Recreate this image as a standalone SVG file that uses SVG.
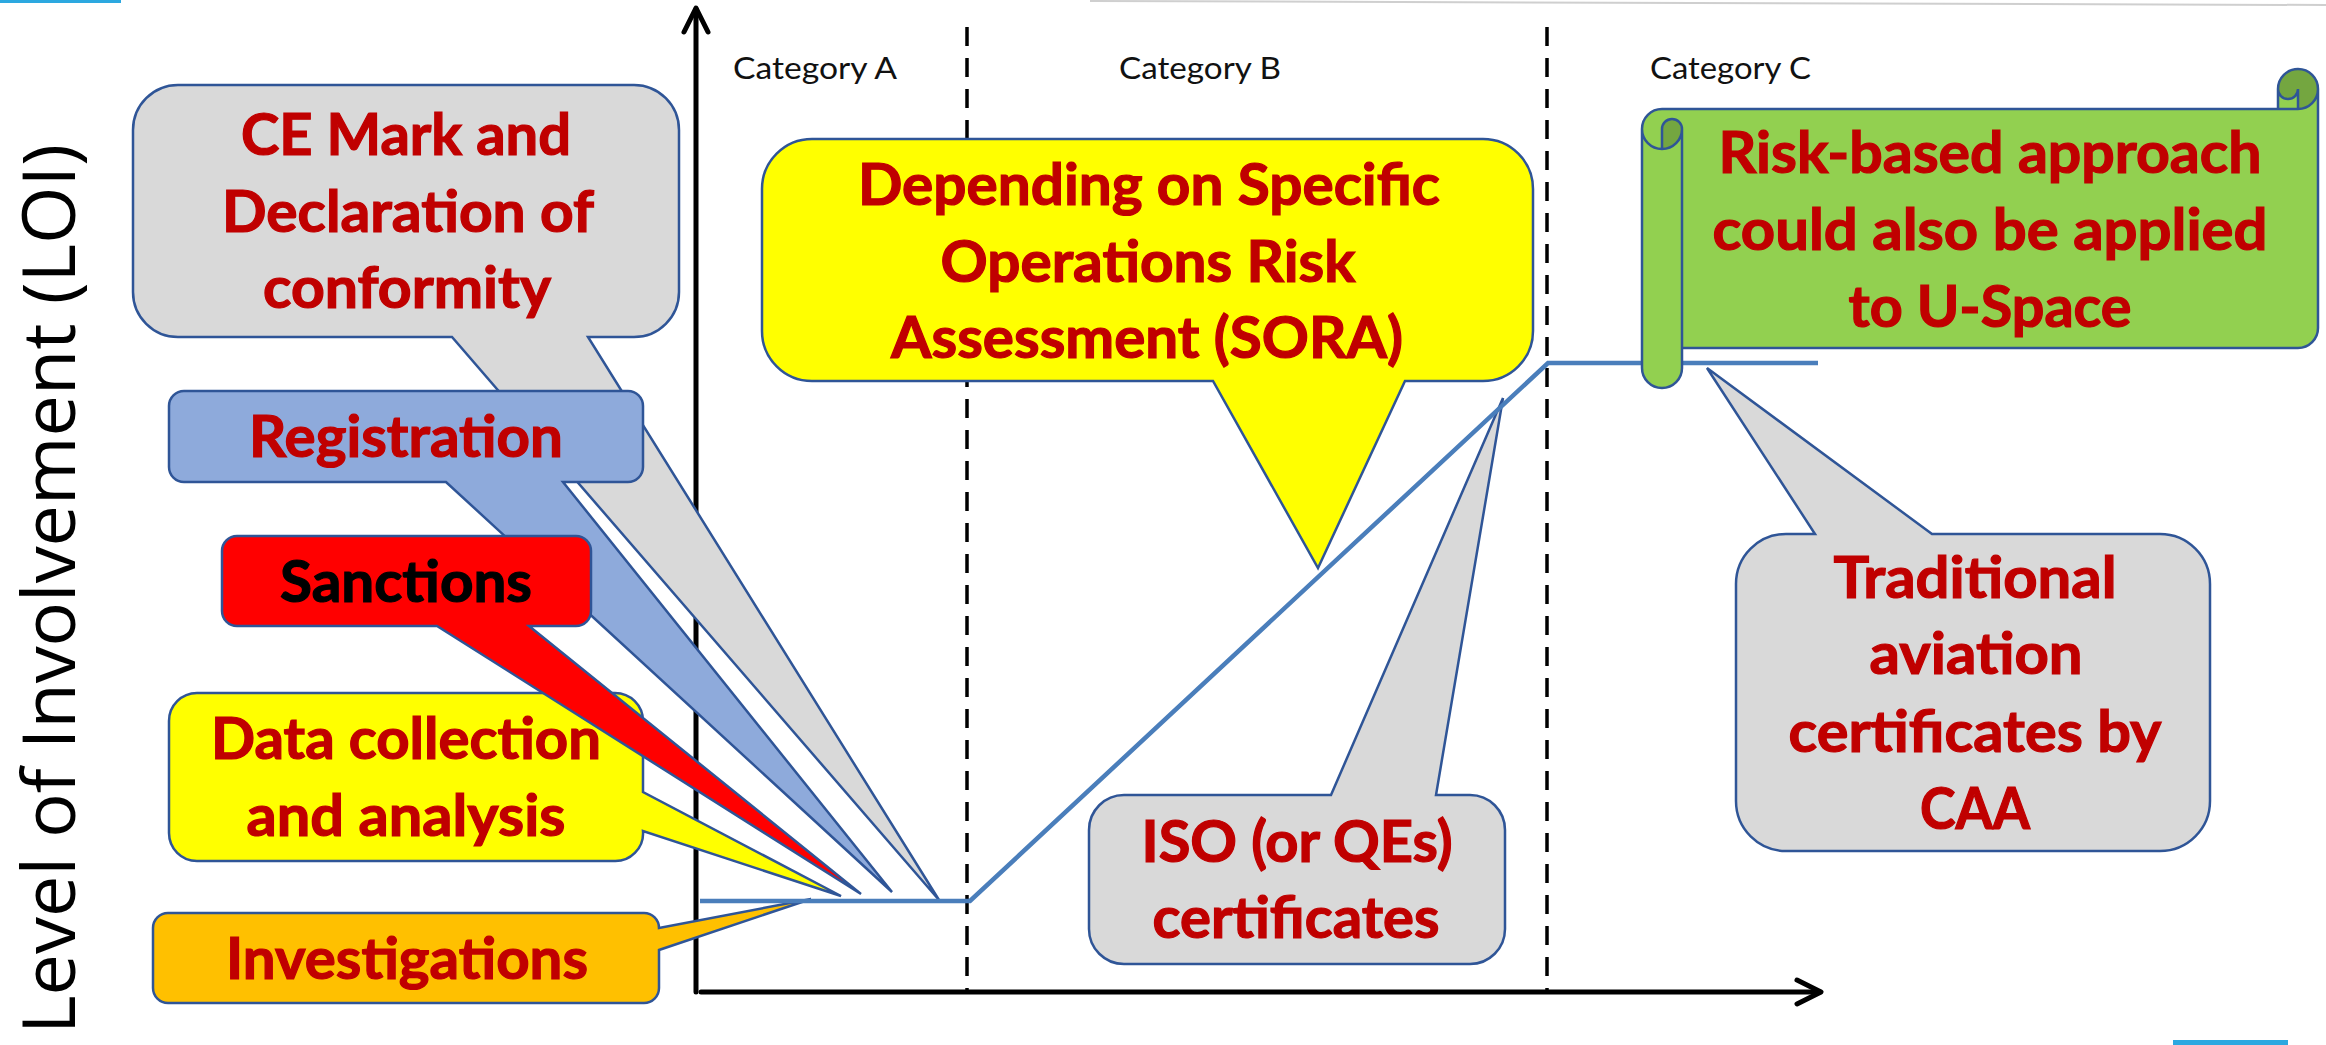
<svg xmlns="http://www.w3.org/2000/svg" width="2326" height="1045" viewBox="0 0 2326 1045">
<style>
.box{stroke:#2F5597;stroke-width:2.5;stroke-linejoin:miter}
.lbl{font-family:Lato,'Open Sans',sans-serif;font-weight:700;font-size:57px;fill:#C00000;stroke:#C00000;stroke-width:1.2;text-anchor:middle}
.blk{fill:#000;stroke:#000}
.cat{font-family:Lato,'Open Sans',sans-serif;font-size:31px;fill:#111}
.axis{stroke:#000;stroke-width:5;fill:none;stroke-linecap:round;stroke-linejoin:round}
.dash{stroke:#000;stroke-width:3.5;stroke-dasharray:19 12;fill:none}
.loi{stroke:#4A7EBB;stroke-width:4.5;fill:none;stroke-linejoin:miter}
.gray{fill:#D9D9D9}
</style>
<rect width="2326" height="1045" fill="#fff"/>
<g id="decor">
<rect x="0" y="0" width="121" height="3" fill="#2CA8E0"/>
<rect x="2173" y="1040" width="115" height="5" fill="#2CA8E0"/>
<line x1="1090" y1="1" x2="2326" y2="5" stroke="#CFCFCF" stroke-width="2"/>
</g>
<text id="ylabel" transform="translate(75,1034) rotate(-90)" font-family="'Open Sans',sans-serif" font-size="74" fill="#000" textLength="890" lengthAdjust="spacingAndGlyphs">Level of Involvement (LOI)</text>
<g id="axes">
<line class="dash" x1="967" y1="27" x2="967" y2="991"/>
<line class="dash" x1="1547" y1="27" x2="1547" y2="991"/>
<line class="axis" x1="696" y1="9" x2="696" y2="992"/>
<polyline class="axis" points="684,32 696,8 708,32"/>
<line class="axis" x1="701" y1="992" x2="1820" y2="992"/>
<polyline class="axis" points="1797,980 1821,992 1797,1004"/>
<text class="cat" x="733" y="79" textLength="164" lengthAdjust="spacingAndGlyphs">Category A</text>
<text class="cat" x="1119" y="79" textLength="162" lengthAdjust="spacingAndGlyphs">Category B</text>
<text class="cat" x="1650" y="79" textLength="161" lengthAdjust="spacingAndGlyphs">Category C</text>
</g>
<g id="data-collection">
<path class="box" fill="#FFFF00" d="M197 693 H615 A28 28 0 0 1 643 721 V792 L841 896 L643 831 A28 28 0 0 1 613 861 H197 A28 28 0 0 1 169 833 V721 A28 28 0 0 1 197 693 Z"/>
<text class="lbl" x="406" y="759" textLength="390" lengthAdjust="spacingAndGlyphs">Data collection</text>
<text class="lbl" x="406" y="836" textLength="319" lengthAdjust="spacingAndGlyphs">and analysis</text>
</g>
<g id="ce-mark">
<path class="box gray" d="M178 85 H634 A45 45 0 0 1 679 130 V292 A45 45 0 0 1 634 337 H588 L939 900 L452 337 H178 A45 45 0 0 1 133 292 V130 A45 45 0 0 1 178 85 Z"/>
<text class="lbl" x="406" y="155" textLength="330" lengthAdjust="spacingAndGlyphs">CE Mark and</text>
<text class="lbl" x="408" y="232" textLength="372" lengthAdjust="spacingAndGlyphs">Declaration of</text>
<text class="lbl" x="407" y="308" textLength="288" lengthAdjust="spacingAndGlyphs">conformity</text>
</g>
<g id="registration">
<path class="box" fill="#8EAADB" d="M184 391 H628 A15 15 0 0 1 643 406 V467 A15 15 0 0 1 628 482 H563 L892 892 L446 482 H184 A15 15 0 0 1 169 467 V406 A15 15 0 0 1 184 391 Z"/>
<text class="lbl" x="406" y="457" textLength="314" lengthAdjust="spacingAndGlyphs">Registration</text>
</g>
<g id="sanctions">
<path class="box" fill="#FF0000" d="M237 536 H576 A15 15 0 0 1 591 551 V611 A15 15 0 0 1 576 626 H529 L861 894 L437 626 H237 A15 15 0 0 1 222 611 V551 A15 15 0 0 1 237 536 Z"/>
<text class="lbl blk" x="406" y="602" textLength="252" lengthAdjust="spacingAndGlyphs">Sanctions</text>
</g>
<g id="investigations">
<path class="box" fill="#FFC000" d="M168 913 H644 A15 15 0 0 1 659 928 L811 899 L659 950 V988 A15 15 0 0 1 644 1003 H168 A15 15 0 0 1 153 988 V928 A15 15 0 0 1 168 913 Z"/>
<text class="lbl" x="407" y="979" textLength="362" lengthAdjust="spacingAndGlyphs">Investigations</text>
</g>
<g id="sora">
<path class="box" fill="#FFFF00" d="M812 139 H1483 A50 50 0 0 1 1533 189 V331 A50 50 0 0 1 1483 381 H1405 L1318 568 L1213 381 H812 A50 50 0 0 1 762 331 V189 A50 50 0 0 1 812 139 Z"/>
<text class="lbl" x="1149" y="205" textLength="582" lengthAdjust="spacingAndGlyphs">Depending on Specific</text>
<text class="lbl" x="1148" y="282" textLength="415" lengthAdjust="spacingAndGlyphs">Operations Risk</text>
<text class="lbl" x="1147" y="358" textLength="512" lengthAdjust="spacingAndGlyphs">Assessment (SORA)</text>
</g>
<g id="iso">
<path class="box gray" d="M1124 795 H1331 L1503 398 L1436 795 H1470 A35 35 0 0 1 1505 830 V929 A35 35 0 0 1 1470 964 H1124 A35 35 0 0 1 1089 929 V830 A35 35 0 0 1 1124 795 Z"/>
<text class="lbl" x="1297" y="862" textLength="311" lengthAdjust="spacingAndGlyphs">ISO (or QEs)</text>
<text class="lbl" x="1296" y="938" textLength="287" lengthAdjust="spacingAndGlyphs">certificates</text>
</g>
<g id="traditional">
<path class="box gray" d="M1786 534 H1815 L1707 368 L1932 534 H2160 A50 50 0 0 1 2210 584 V801 A50 50 0 0 1 2160 851 H1786 A50 50 0 0 1 1736 801 V584 A50 50 0 0 1 1786 534 Z"/>
<text class="lbl" x="1975" y="598" textLength="283" lengthAdjust="spacingAndGlyphs">Traditional</text>
<text class="lbl" x="1976" y="674" textLength="213" lengthAdjust="spacingAndGlyphs">aviation</text>
<text class="lbl" x="1975" y="752" textLength="373" lengthAdjust="spacingAndGlyphs">certificates by</text>
<text class="lbl" x="1975" y="829" textLength="110" lengthAdjust="spacingAndGlyphs">CAA</text>
</g>
<g id="connectors">
<polyline class="loi" points="700,901 970,901 1548,363 1818,363"/>
</g>
<g id="scroll">
<path fill="#92D050" d="M1642 129 A20 20 0 0 1 1662 109 L2278 109 L2278 89 A20 20 0 0 1 2318 89 L2318 328 A20 20 0 0 1 2298 348 L1682 348 L1682 368 A20 20 0 0 1 1642 368 Z"/>
<path fill="#74A640" d="M1662 149 A20 20 0 0 0 1682 129 A10 10 0 0 0 1662 129 Z M2298 109 A20 20 0 1 0 2278 89 A10 10 0 0 0 2298 89 Z"/>
<path class="box" fill="none" d="M1642 129 A20 20 0 0 1 1662 109 L2278 109 L2278 89 A20 20 0 0 1 2318 89 L2318 328 A20 20 0 0 1 2298 348 L1682 348 L1682 368 A20 20 0 0 1 1642 368 Z M2278 109 L2298 109 A20 20 0 0 0 2318 89 M2298 109 L2298 89 A10 10 0 0 1 2278 89 M1662 149 L1662 129 A10 10 0 0 1 1682 129 A20 20 0 0 1 1642 129 M1682 129 L1682 348"/>
<text class="lbl" x="1990" y="173" textLength="543" lengthAdjust="spacingAndGlyphs">Risk-based approach</text>
<text class="lbl" x="1990" y="250" textLength="555" lengthAdjust="spacingAndGlyphs">could also be applied</text>
<text class="lbl" x="1990" y="327" textLength="283" lengthAdjust="spacingAndGlyphs">to U-Space</text>
</g>
</svg>
